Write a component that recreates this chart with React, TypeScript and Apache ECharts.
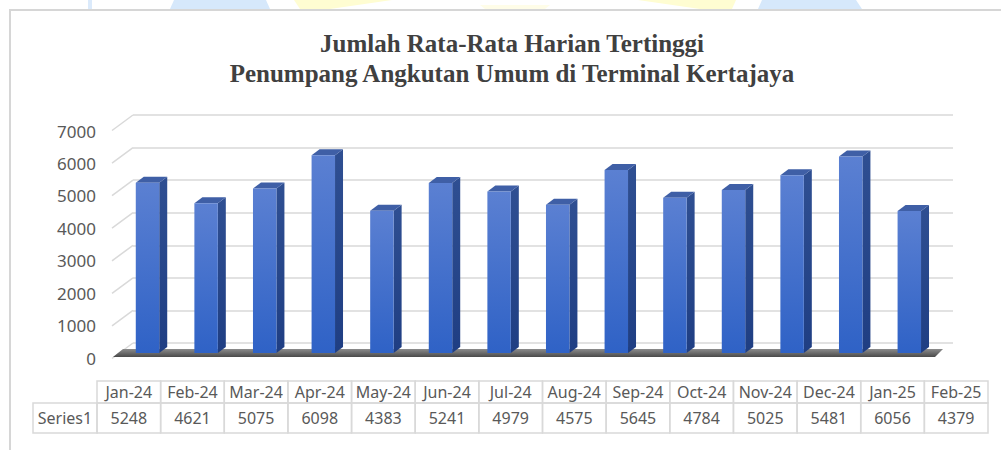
import React, { useEffect, useRef } from "react";
import * as echarts from "echarts";

const TITLE_LINES = [
  "Jumlah Rata-Rata Harian Tertinggi",
  "Penumpang Angkutan Umum di Terminal Kertajaya",
];
const CATEGORIES = [
  "Jan-24", "Feb-24", "Mar-24", "Apr-24", "May-24", "Jun-24", "Jul-24",
  "Aug-24", "Sep-24", "Oct-24", "Nov-24", "Dec-24", "Jan-25", "Feb-25",
];
const VALUES = [5248, 4621, 5075, 6098, 4383, 5241, 4979, 4575, 5645, 4784, 5025, 5481, 6056, 4379];
const SERIES_NAME = "Series1";
const Y_MIN = 0;
const Y_MAX = 7000;
const Y_INTERVAL = 1000;

const TEXT_COLOR = "#595959";
const GRID_COLOR = "#d9d9d9";
const FONT = "Noto Sans";

export default function App() {
  const ref = useRef<HTMLDivElement>(null);
  useEffect(() => {
    if (!ref.current) return;
    const chart = echarts.init(ref.current, undefined, { renderer: "svg" });
    const ticks: number[] = [];
    for (let v = Y_MIN; v <= Y_MAX; v += Y_INTERVAL) ticks.push(v);

    const option: any = {
      animation: false,
      backgroundColor: "#ffffff",
      grid: [
        { left: 133, top: 115, width: 820, height: 228 }, // back wall
        { left: 112, top: 131, width: 10, height: 227 }, // front edge (labels)
        { left: 118.2, top: 126, width: 820.4, height: 227 }, // bars
        { left: 97, top: 381, width: 891, height: 52 }, // data table
      ],
      xAxis: [
        { gridIndex: 0, type: "value", min: 0, max: 1, show: false },
        { gridIndex: 1, type: "value", min: 0, max: 1, show: false },
        { gridIndex: 2, type: "category", data: CATEGORIES, show: false },
        { gridIndex: 3, type: "category", data: CATEGORIES, show: false },
      ],
      yAxis: [
        {
          gridIndex: 0, type: "value", min: Y_MIN, max: Y_MAX, interval: Y_INTERVAL,
          axisLabel: { show: false }, axisLine: { show: false }, axisTick: { show: false },
          splitLine: { show: true, lineStyle: { color: GRID_COLOR, width: 1.5 } },
        },
        {
          gridIndex: 1, type: "value", min: Y_MIN, max: Y_MAX, interval: Y_INTERVAL,
          axisLabel: {
            color: TEXT_COLOR, fontSize: 17, fontFamily: FONT, margin: 16,
            formatter: (v: number) => String(v),
          },
          axisLine: { show: false }, axisTick: { show: false }, splitLine: { show: false },
        },
        { gridIndex: 2, type: "value", min: Y_MIN, max: Y_MAX, show: false },
        { gridIndex: 3, type: "value", min: 0, max: 2, show: false },
      ],
      graphic: [
        {
          type: "rect", z: -10, silent: true,
          shape: { x: 10, y: 10, width: 1100, height: 600 },
          style: { fill: "none", stroke: "#d6d6d6", lineWidth: 2 },
        },
        { type: "rect", z: -11, shape: { x: 88, y: 0, width: 4, height: 9 }, style: { fill: "#dbeafb" } },
        { type: "polygon", z: -11, shape: { points: [[174, 0], [266, 0], [270, 9], [170, 9]] }, style: { fill: "#d6e8fb" } },
        { type: "polygon", z: -11, shape: { points: [[294, 0], [392, 0], [330, 9], [300, 9]] }, style: { fill: "#fffdd2" } },
        { type: "polygon", z: -11, shape: { points: [[480, 5], [550, 5], [545, 9], [485, 9]] }, style: { fill: "#fffde8" } },
        { type: "polygon", z: -11, shape: { points: [[638, 0], [736, 0], [732, 9], [700, 9]] }, style: { fill: "#fffdd2" } },
        { type: "polygon", z: -11, shape: { points: [[762, 0], [856, 0], [862, 9], [758, 9]] }, style: { fill: "#d6e8fb" } },
        {
          type: "polygon", z: 1, silent: true,
          shape: { points: [[113, 357], [935, 357], [943, 349], [123, 349]] },
          style: {
            fill: new echarts.graphic.LinearGradient(0, 0, 0, 1, [
              { offset: 0, color: "#8c8c8c" },
              { offset: 1, color: "#4a4a4a" },
            ]),
          },
        },
        {
          type: "group",
          children: TITLE_LINES.map((t, i) => ({
            type: "text",
            x: 512,
            y: 43 + i * 30,
            style: {
              text: t,
              fill: "#404040",
              fontFamily: "Liberation Serif",
              fontSize: 25,
              fontWeight: "bold",
              font: 'bold 25px "Liberation Serif"',
              align: "center",
              textAlign: "center",
              verticalAlign: "middle",
              textVerticalAlign: "middle",
            },
          })),
        },
      ],
      series: [
        {
          type: "custom",
          name: "sideWall",
          xAxisIndex: 0,
          yAxisIndex: 0,
          silent: true,
          z: 0,
          data: ticks.map((v) => [0, v]),
          renderItem: (params: any, api: any) => {
            const p = api.coord([0, api.value(1)]);
            return {
              type: "line",
              shape: { x1: p[0], y1: p[1], x2: p[0] - 21, y2: p[1] + 15.5 },
              style: { stroke: GRID_COLOR, lineWidth: 1.5 },
            };
          },
        },
        {
          type: "custom",
          name: SERIES_NAME,
          xAxisIndex: 2,
          yAxisIndex: 2,
          z: 5,
          data: VALUES.map((v, i) => [i, v]),
          renderItem: (params: any, api: any) => {
            const i = api.value(0);
            const v = api.value(1);
            const base = api.coord([i, 0]);
            const top = api.coord([i, v]);
            const band = api.size([1, 0])[0];
            const w = band * 0.4;
            const x0 = base[0] - w / 2;
            const x1 = base[0] + w / 2;
            const yb = base[1];
            const yt = top[1];
            const dx = 8;
            const dy = 6;
            return {
              type: "group",
              children: [
                {
                  type: "polygon",
                  shape: { points: [[x1, yt], [x1 + dx, yt - dy], [x1 + dx, yb - dy], [x1, yb]] },
                  style: {
                    fill: new echarts.graphic.LinearGradient(0, 0, 0, 1, [
                      { offset: 0, color: "#2f4f92" },
                      { offset: 1, color: "#1f3e83" },
                    ]),
                  },
                },
                {
                  type: "polygon",
                  shape: { points: [[x0, yt], [x1, yt], [x1 + dx, yt - dy], [x0 + dx, yt - dy]] },
                  style: { fill: "#3f5fa6" },
                },
                {
                  type: "rect",
                  shape: { x: x0, y: yt, width: w, height: yb - yt },
                  style: {
                    fill: new echarts.graphic.LinearGradient(0, 0, 0, 1, [
                      { offset: 0, color: "#5b80d2" },
                      { offset: 1, color: "#2f62c6" },
                    ]),
                  },
                },
              ],
            };
          },
        },
        {
          type: "custom",
          name: "table",
          xAxisIndex: 3,
          yAxisIndex: 3,
          silent: true,
          z: 5,
          data: CATEGORIES.map((c, i) => [i, VALUES[i]]),
          renderItem: (params: any, api: any) => {
            const i = api.value(0);
            const val = api.value(1);
            const c = api.coord([i, 0]);
            const t = api.coord([i, 2]);
            const cw = api.size([1, 0])[0];
            const left = c[0] - cw / 2;
            const yTop = t[1];
            const yBot = c[1];
            const headH = 22;
            const yMid = yTop + headH;
            const txt = (s: string, x: number, y: number) => ({
              type: "text",
              style: {
                text: s, x, y, fill: TEXT_COLOR, fontFamily: FONT, fontSize: 16,
                font: `16px "${FONT}"`,
                align: "center", textAlign: "center",
                verticalAlign: "middle", textVerticalAlign: "middle",
              },
            });
            const cell = (x: number, y: number, wd: number, h: number) => ({
              type: "rect",
              shape: { x, y, width: wd, height: h },
              style: { fill: "none", stroke: GRID_COLOR, lineWidth: 1.5 },
            });
            const children: any[] = [
              cell(left, yTop, cw, headH),
              cell(left, yMid, cw, yBot - yMid),
              txt(CATEGORIES[i], c[0], yTop + headH / 2),
              txt(String(val), c[0], (yMid + yBot) / 2),
            ];
            if (i === 0) {
              const lw = 64;
              children.push(cell(left - lw, yMid, lw, yBot - yMid));
              children.push(txt(SERIES_NAME, left - lw / 2, (yMid + yBot) / 2));
            }
            return { type: "group", children };
          },
        },
      ],
    };
    chart.setOption(option);
    return () => chart.dispose();
  }, []);
  return (
    <div
      ref={ref}
      style={{ position: "absolute", left: 0, top: 0, width: 1001, height: 450 }}
    />
  );
}
